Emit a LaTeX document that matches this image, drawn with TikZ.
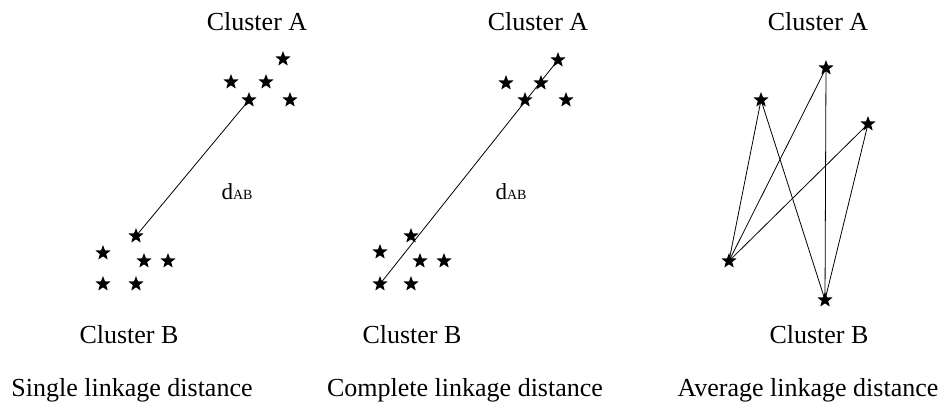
\documentclass[tikz,border=0pt]{standalone}
\usepackage{fontspec}
\setmainfont{Liberation Serif}
\usetikzlibrary{shapes.geometric}
\tikzset{
  pt/.style={star, star points=5, star point ratio=2.4, fill=black, draw=none,
             minimum size=16pt, inner sep=0pt},
  link/.style={draw=black, line width=0.8pt},
  lbl/.style={anchor=base, inner sep=0pt, font=\fontsize{26}{30}\selectfont},
  dist/.style={anchor=base, inner sep=0pt},
}
\newcommand{\dAB}{{\fontsize{23}{26}\selectfont d}{\fontsize{14}{16}\selectfont AB}}
\begin{document}
\begin{tikzpicture}[x=1pt,y=-1pt]
\useasboundingbox (0,0) rectangle (945,405);

% --- single linkage ---
\node[pt] (sa1) at (283,59) {};
\node[pt] (sa2) at (231,82) {};
\node[pt] (sa3) at (266,82) {};
\node[pt] (sa4) at (249,100) {};
\node[pt] (sa5) at (290,100) {};
\node[pt] (sb1) at (136,236) {};
\node[pt] (sb2) at (103,253) {};
\node[pt] (sb3) at (144,261) {};
\node[pt] (sb4) at (168,261) {};
\node[pt] (sb5) at (103,284) {};
\node[pt] (sb6) at (136,284) {};
\draw[link] (sa4.center) -- (sb1.center);
\node[dist] (sd) at (237,199) {\dAB};
\node[lbl] (sca) at (257,30) {Cluster A};
\node[lbl] (scb) at (129,343) {Cluster B};
\node[lbl] (st) at (132,396) {Single linkage distance};

% --- complete linkage ---
\node[pt] (ca1) at (558,60) {};
\node[pt] (ca2) at (506,83) {};
\node[pt] (ca3) at (541,83) {};
\node[pt] (ca4) at (525,100) {};
\node[pt] (ca5) at (566,100) {};
\node[pt] (cb1) at (411,236) {};
\node[pt] (cb2) at (380,252) {};
\node[pt] (cb3) at (420,261) {};
\node[pt] (cb4) at (444,261) {};
\node[pt] (cb5) at (380,284) {};
\node[pt] (cb6) at (411,284) {};
\draw[link] (cb5.center) -- (ca1.center);
\node[dist] (cd) at (511,199) {\dAB};
\node[lbl] (cca) at (538,30) {Cluster A};
\node[lbl] (ccb) at (412,343) {Cluster B};
\node[lbl] (ct) at (465,396) {Complete linkage distance};

% --- average linkage ---
\node[pt] (aa1) at (761,100) {};
\node[pt] (aa2) at (826,68) {};
\node[pt] (aa3) at (868,124) {};
\node[pt] (ab1) at (729,261) {};
\node[pt] (ab2) at (825,300) {};
\foreach \a in {aa1,aa2,aa3}{
  \draw[link] (ab1.center) -- (\a.center);
  \draw[link] (ab2.center) -- (\a.center);
}
\node[lbl] (aca) at (818,30) {Cluster A};
\node[lbl] (acb) at (819,343) {Cluster B};
\node[lbl] (at) at (808,396) {Average linkage distance};
\end{tikzpicture}
\end{document}
